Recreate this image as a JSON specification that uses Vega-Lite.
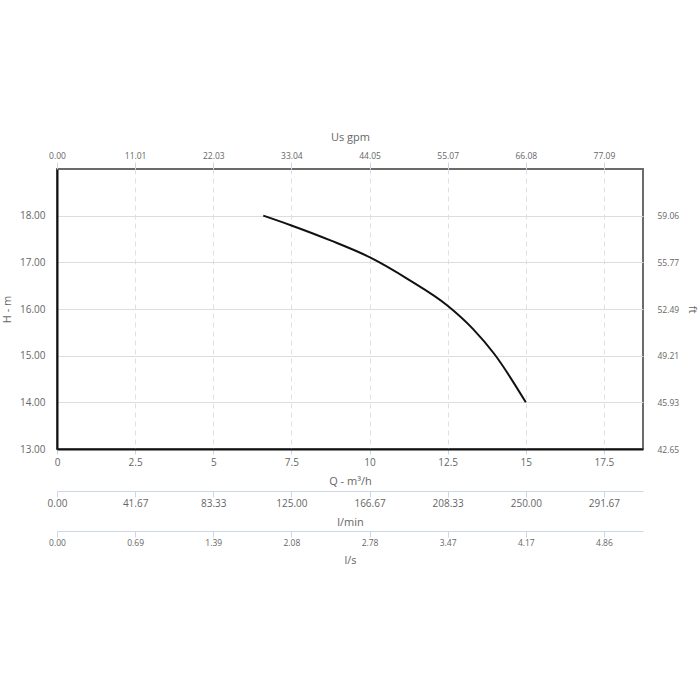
{
  "$schema": "https://vega.github.io/schema/vega-lite/v6.json",
  "autosize": "none",
  "width": 586,
  "height": 280,
  "padding": {"left": 57, "top": 169, "right": 57, "bottom": 251},
  "background": "white",
  "config": {
    "font": "Open Sans",
    "view": {"stroke": "#6b6b6b", "strokeWidth": 2},
    "axis": {"labelColor": "#666666", "titleColor": "#666666", "labelFont": "Open Sans", "titleFont": "Open Sans", "titleFontWeight": "normal", "labelFontSize": 10, "titleFontSize": 11, "labelFlush": false, "labelOverlap": false}
  },
  "data": {"values": [
    {"q": 6.6, "h": 18.0},
    {"q": 7.5, "h": 17.79},
    {"q": 8.75, "h": 17.47},
    {"q": 10.0, "h": 17.11},
    {"q": 11.25, "h": 16.63},
    {"q": 12.5, "h": 16.07},
    {"q": 13.3, "h": 15.58},
    {"q": 14.0, "h": 15.03},
    {"q": 15.0, "h": 14.0}
  ]},
  "layer": [
    {
      "mark": {"type": "line", "color": "#111111", "strokeWidth": 2, "interpolate": "monotone"},
      "encoding": {
        "x": {"field": "q", "type": "quantitative",
          "scale": {"domain": [0, 18.75], "nice": false, "zero": false},
          "axis": {"orient": "bottom", "title": "Q - m³/h", "values": [0, 2.5, 5, 7.5, 10, 12.5, 15, 17.5],
            "labelExpr": "'' + datum.value", "tickSize": 5, "tickColor": "#ccd6eb", "labelPadding": 3,
            "domainColor": "#111111", "domainWidth": 2,
            "grid": true, "gridColor": "#e0e0e0", "gridDash": [5, 4], "gridWidth": 1,
            "titleX": 293, "titleY": 32, "titleBaseline": "middle", "titleAlign": "center"}},
        "y": {"field": "h", "type": "quantitative",
          "scale": {"domain": [13, 19], "nice": false, "zero": false},
          "axis": {"orient": "left", "title": "H - m", "values": [13, 14, 15, 16, 17, 18], "format": ".2f",
            "ticks": false, "labelPadding": 12, "domainColor": "#111111", "domainWidth": 2,
            "grid": true, "gridColor": "#dddddd", "gridWidth": 1,
            "titleX": -50, "titleY": 140, "titleBaseline": "middle", "titleAlign": "center", "titleAngle": -90}}
      }
    },
    {
      "mark": {"type": "point", "opacity": 0},
      "encoding": {
        "x": {"field": "q", "type": "quantitative",
          "axis": {"orient": "top", "title": "Us gpm", "values": [0, 2.5, 5, 7.5, 10, 12.5, 15, 17.5],
            "labelExpr": "format(datum.value * 4.4053, '.2f')", "labelFontSize": 8.5,
            "tickSize": 7, "tickColor": "#ccd6eb", "labelPadding": 2, "domain": false, "grid": false,
            "titleX": 293, "titleY": -32, "titleBaseline": "middle", "titleAlign": "center"}}
      }
    },
    {
      "mark": {"type": "point", "opacity": 0},
      "encoding": {
        "x": {"field": "q", "type": "quantitative",
          "axis": {"orient": "bottom", "offset": 42, "title": "l/min", "values": [0, 2.5, 5, 7.5, 10, 12.5, 15, 17.5],
            "labelExpr": "format(datum.value * 1000 / 60, '.2f')", "labelFontSize": 10,
            "tickSize": 6, "tickColor": "#ccd6eb", "labelPadding": 1, "domainColor": "#ccd6eb", "domainWidth": 1, "grid": false,
            "titleX": 293, "titleY": 31, "titleBaseline": "middle", "titleAlign": "center"}}
      }
    },
    {
      "mark": {"type": "point", "opacity": 0},
      "encoding": {
        "x": {"field": "q", "type": "quantitative",
          "axis": {"orient": "bottom", "offset": 82, "title": "l/s", "values": [0, 2.5, 5, 7.5, 10, 12.5, 15, 17.5],
            "labelExpr": "format(datum.value / 3.6, '.2f')", "labelFontSize": 8.5,
            "tickSize": 6, "tickColor": "#ccd6eb", "labelPadding": 1, "domainColor": "#ccd6eb", "domainWidth": 1, "grid": false,
            "titleX": 293, "titleY": 29, "titleBaseline": "middle", "titleAlign": "center"}}
      }
    },
    {
      "mark": {"type": "point", "opacity": 0},
      "encoding": {
        "y": {"field": "h", "type": "quantitative",
          "axis": {"orient": "right", "title": "ft", "values": [13, 14, 15, 16, 17, 18],
            "labelExpr": "['42.65','45.93','49.21','52.49','55.77','59.06'][datum.value - 13]", "labelFontSize": 8.5,
            "ticks": false, "labelPadding": 14, "domain": false, "grid": false,
            "titleX": 48, "titleY": 140, "titleBaseline": "middle", "titleAlign": "center", "titleAngle": 90}}
      }
    }
  ],
  "resolve": {"axis": {"x": "independent", "y": "independent"}}
}
